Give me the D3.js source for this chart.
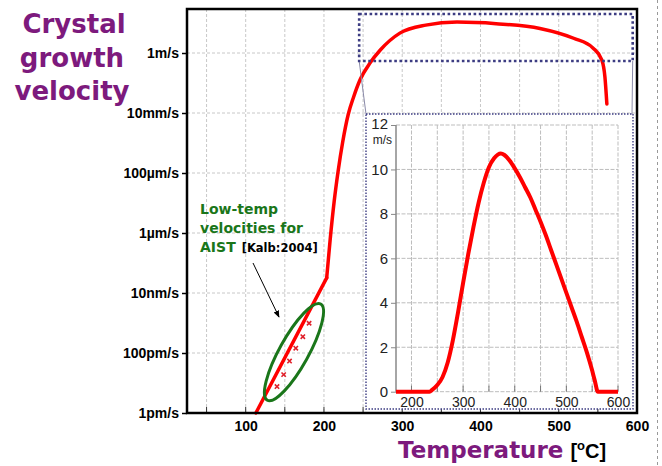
<!DOCTYPE html>
<html>
<head>
<meta charset="utf-8">
<script src="https://cdn.jsdelivr.net/npm/d3@7"></script>
<style>
  html, body { margin: 0; padding: 0; background: #fff; }
  svg { display: block; }
</style>
</head>
<body>
<svg id="chart" width="662" height="466"></svg>
<script>
// ---------- data ----------
// main curve: temperature [°C] and crystal growth velocity [m/s]
const mainT = [113, 203.5, 208, 213, 218, 224, 231, 238, 246, 259, 272, 297, 330, 370, 420, 476, 519, 544, 555, 559, 561.5];
const mainV = [1e-12, 3.2e-8, 6.3e-7, 1.1e-5, 1.1e-4, 1.1e-3, 8.9e-3, 0.035, 0.126, 0.47, 1.26, 4.6, 8.5, 10.7, 9.5, 6.6, 3.1, 1.45, 0.59, 0.16, 0.02];
// low-temperature AIST measurements [Kalb:2004]
const kalbT = [140, 148.5, 156, 164, 173, 181];
const kalbV = [7.6e-12, 1.9e-11, 5.4e-11, 1.45e-10, 3.5e-10, 9.8e-10];
// inset (linear) curve
const insetT = [170, 200, 235, 240, 250, 260, 270, 280, 290, 300, 310, 320, 330, 340, 350, 360, 373, 380, 390, 400, 410, 420, 430, 440, 450, 460, 470, 480, 490, 500, 510, 520, 530, 540, 550, 555, 561, 600];
const insetV = [0, 0, 0, 0.08, 0.3, 0.65, 1.3, 2.3, 3.55, 4.9, 6.2, 7.4, 8.5, 9.4, 10.1, 10.5, 10.72, 10.65, 10.4, 10.05, 9.65, 9.2, 8.75, 8.2, 7.65, 7.05, 6.4, 5.75, 5.1, 4.45, 3.8, 3.15, 2.45, 1.75, 0.95, 0.5, 0, 0];
// ticks
const yTickValues = [1e-12, 1e-10, 1e-8, 1e-6, 1e-4, 1e-2, 1];
const yTickLabels = ["1pm/s", "100pm/s", "10nm/s", "1\u00B5m/s", "100\u00B5m/s", "10mm/s", "1m/s"];
const xTickValues = [100, 200, 300, 400, 500, 600];
const xGridValues = [50, 100, 150, 200, 250, 300, 350, 400, 450, 500, 550];
const insetXTicks = [200, 300, 400, 500, 600];
const insetXGrid = [200, 250, 300, 350, 400, 450, 500, 550, 600];
const insetYTicks = [0, 2, 4, 6, 8, 10, 12];
// zoom window shown in the inset (data space)
const zoomT = [245, 594.5];
const zoomV = [0.54, 20];
// annotation ellipse (data space centre)
const ellipseCentre = [161.7, 1.07e-10];

// ---------- layout ----------
const svg = d3.select("#chart");
const PURPLE = "#7d1a7d", GREEN = "#1a761a", RED = "#ff0000", NAVY = "#3c3c82";

const x = d3.scaleLinear().domain([25, 600]).range([187, 637]);
const y = d3.scaleLog().domain([1e-12, 29.3]).range([413, 9]);

// right-side slide frame dashed line
svg.append("line").attr("x1", 657.5).attr("x2", 657.5).attr("y1", 0).attr("y2", 466)
  .attr("stroke", "#999").attr("stroke-width", 1).attr("stroke-dasharray", "3,3");

// grid
const grid = svg.append("g");
grid.selectAll("line.v").data(xGridValues).join("line")
  .attr("x1", d => x(d)).attr("x2", d => x(d)).attr("y1", 9).attr("y2", 413)
  .attr("stroke", "#c8c8c8").attr("stroke-width", 1).attr("stroke-dasharray", "3,2");
grid.selectAll("line.h").data(yTickValues.slice(1)).join("line")
  .attr("x1", 187).attr("x2", 637).attr("y1", d => y(d)).attr("y2", d => y(d))
  .attr("stroke", "#c8c8c8").attr("stroke-width", 1).attr("stroke-dasharray", "3,2");

// axes
const yAxis = d3.axisLeft(y).tickValues(yTickValues).tickFormat((d, i) => yTickLabels[i]).tickSize(5).tickPadding(3);
const gy = svg.append("g").attr("transform", "translate(187,0)").call(yAxis);
gy.select(".domain").remove();
gy.selectAll(".tick line").attr("stroke", "#000").attr("stroke-width", 1.5);
gy.selectAll(".tick text").attr("font-family", "Liberation Sans, Arial, sans-serif")
  .attr("font-weight", "bold").attr("font-size", 14).attr("fill", "#000");

const xAxis = d3.axisBottom(x).tickValues(xTickValues).tickFormat(d3.format("d")).tickSize(0).tickPadding(8);
const gx = svg.append("g").attr("transform", "translate(0,413)").call(xAxis);
gx.select(".domain").remove();
gx.selectAll(".tick text").attr("font-family", "Liberation Sans, Arial, sans-serif")
  .attr("font-weight", "bold").attr("font-size", 14).attr("fill", "#000");
// inner ticks every 50
svg.append("g").selectAll("line").data(xGridValues).join("line")
  .attr("x1", d => x(d)).attr("x2", d => x(d)).attr("y1", 413).attr("y2", 407)
  .attr("stroke", "#333").attr("stroke-width", 1);

// main curve
const pts = mainT.map((t, i) => [t, mainV[i]]);
const lin = d3.line().x(d => x(d[0])).y(d => y(d[1]));
svg.append("path").attr("d", lin(pts.slice(0, 2)))
  .attr("fill", "none").attr("stroke", RED).attr("stroke-width", 3.5).attr("stroke-linecap", "round");
svg.append("path").attr("d", lin.curve(d3.curveMonotoneX)(pts.slice(1)))
  .attr("fill", "none").attr("stroke", RED).attr("stroke-width", 3.5).attr("stroke-linejoin", "round").attr("stroke-linecap", "round");

// Kalb markers
svg.append("g").selectAll("path").data(kalbT.map((t, i) => [t, kalbV[i]])).join("path")
  .attr("transform", d => `translate(${x(d[0])},${y(d[1])})`)
  .attr("d", d3.symbol(d3.symbolX, 14)())
  .attr("fill", "none").attr("stroke", "#e0202a").attr("stroke-width", 1.6);

// ellipse
svg.append("ellipse")
  .attr("transform", `translate(${x(ellipseCentre[0])},${y(ellipseCentre[1])}) rotate(-61)`)
  .attr("rx", 55).attr("ry", 14.5)
  .attr("fill", "none").attr("stroke", GREEN).attr("stroke-width", 3);

// arrow
const defs = svg.append("defs");
defs.append("marker").attr("id", "arr").attr("viewBox", "0 0 10 10").attr("refX", 9).attr("refY", 5)
  .attr("markerWidth", 7).attr("markerHeight", 7).attr("orient", "auto")
  .append("path").attr("d", "M0,1 L10,5 L0,9 Z").attr("fill", "#000");
svg.append("line").attr("x1", 253).attr("y1", 263).attr("x2", 279).attr("y2", 317)
  .attr("stroke", "#000").attr("stroke-width", 1).attr("marker-end", "url(#arr)");

// annotation text
const ann = svg.append("g").attr("font-family", "DejaVu Sans, Verdana, sans-serif").attr("font-weight", "bold").attr("fill", GREEN).attr("font-size", 14);
ann.append("text").attr("x", 200).attr("y", 214).text("Low-temp");
ann.append("text").attr("x", 200).attr("y", 233).text("velocities for");
const t3 = ann.append("text").attr("x", 200).attr("y", 252);
t3.append("tspan").text("AIST");
t3.append("tspan").attr("dx", 6).attr("font-size", 11.5).attr("fill", "#000").text("[Kalb:2004]");

// main frame
svg.append("rect").attr("x", 187).attr("y", 9).attr("width", 450).attr("height", 404)
  .attr("fill", "none").attr("stroke", "#000").attr("stroke-width", 2.5);

// zoom box & connectors
const zx0 = x(zoomT[0]), zx1 = x(zoomT[1]), zy0 = y(zoomV[1]), zy1 = y(zoomV[0]);
const ib = { x0: 366, y0: 114, x1: 633, y1: 409 };
svg.append("line").attr("x1", zx0).attr("y1", zy1).attr("x2", ib.x0).attr("y2", ib.y0).attr("stroke", "#8a8aa8").attr("stroke-width", 1);
svg.append("line").attr("x1", zx1).attr("y1", zy1).attr("x2", ib.x1 - 1).attr("y2", ib.y0).attr("stroke", "#8a8aa8").attr("stroke-width", 1);
svg.append("rect").attr("x", zx0).attr("y", zy0).attr("width", zx1 - zx0).attr("height", zy1 - zy0)
  .attr("fill", "none").attr("stroke", NAVY).attr("stroke-width", 2.6).attr("stroke-dasharray", "2.6,2.6");

// inset box
svg.append("rect").attr("x", ib.x0).attr("y", ib.y0).attr("width", ib.x1 - ib.x0).attr("height", ib.y1 - ib.y0)
  .attr("fill", "#fff").attr("stroke", NAVY).attr("stroke-width", 1.4).attr("stroke-dasharray", "1.5,1.5");

// inset chart
const ix = d3.scaleLinear().domain([170, 600]).range([396, 618]);
const iy = d3.scaleLinear().domain([0, 12]).range([391.7, 125]);
const ig = svg.append("g");
ig.selectAll("line.v").data(insetXGrid).join("line")
  .attr("x1", d => ix(d)).attr("x2", d => ix(d)).attr("y1", iy(12)).attr("y2", iy(0))
  .attr("stroke", "#bdbdbd").attr("stroke-width", 1).attr("stroke-dasharray", "4,1.5");
ig.selectAll("line.h").data(insetYTicks).join("line")
  .attr("x1", ix(170)).attr("x2", ix(600)).attr("y1", d => iy(d)).attr("y2", d => iy(d))
  .attr("stroke", "#bdbdbd").attr("stroke-width", 1).attr("stroke-dasharray", "4,1.5");
// inner bottom ticks
ig.selectAll("line.bt").data(insetXGrid).join("line")
  .attr("x1", d => ix(d)).attr("x2", d => ix(d)).attr("y1", iy(0)).attr("y2", iy(0) - 6)
  .attr("stroke", "#777").attr("stroke-width", 1);
// left axis
ig.append("line").attr("x1", ix(170)).attr("x2", ix(170)).attr("y1", iy(12)).attr("y2", iy(0))
  .attr("stroke", "#888").attr("stroke-width", 1.5);
const iyAxis = d3.axisLeft(iy).tickValues(insetYTicks).tickFormat(d3.format("d")).tickSize(5).tickPadding(3);
const giy = ig.append("g").attr("transform", `translate(${ix(170)},0)`).call(iyAxis);
giy.select(".domain").remove();
giy.selectAll(".tick line").attr("stroke", "#888");
giy.selectAll(".tick text").attr("font-family", "Liberation Sans, Arial, sans-serif").attr("font-size", 15).attr("fill", "#222");
giy.selectAll(".tick text").filter(d => d === 12).attr("dy", "0.2em");
ig.append("text").attr("x", 392).attr("y", 144).attr("text-anchor", "end")
  .attr("font-family", "Liberation Sans, Arial, sans-serif").attr("font-size", 12).attr("fill", "#222").text("m/s");
const ixAxis = d3.axisBottom(ix).tickValues(insetXTicks).tickFormat(d3.format("d")).tickSize(0).tickPadding(5);
const gix = ig.append("g").attr("transform", `translate(0,${iy(0)})`).call(ixAxis);
gix.select(".domain").remove();
gix.selectAll(".tick text").attr("font-family", "Liberation Sans, Arial, sans-serif").attr("font-size", 14).attr("fill", "#222");

ig.append("path")
  .attr("d", d3.line().x(d => ix(d[0])).y(d => iy(d[1])).curve(d3.curveMonotoneX)(insetT.map((t, i) => [t, insetV[i]])))
  .attr("fill", "none").attr("stroke", RED).attr("stroke-width", 4).attr("stroke-linejoin", "round");

// title
const title = svg.append("g").attr("font-family", "DejaVu Sans, Verdana, sans-serif").attr("font-weight", "bold")
  .attr("font-size", 26).attr("fill", PURPLE).attr("text-anchor", "middle");
title.append("text").attr("x", 74).attr("y", 33).text("Crystal");
title.append("text").attr("x", 72).attr("y", 67).text("growth");
title.append("text").attr("x", 72).attr("y", 100).text("velocity");

// x axis title
const xt = svg.append("text").attr("x", 398).attr("y", 458).attr("font-family", "DejaVu Sans, Verdana, sans-serif").attr("font-weight", "bold");
xt.append("tspan").attr("font-size", 23).attr("fill", PURPLE).text("Temperature");
xt.append("tspan").attr("dx", 7).attr("font-size", 20).attr("fill", "#000").attr("font-family", "Liberation Sans, Arial, sans-serif").text("[");
xt.append("tspan").attr("font-size", 13).attr("dy", -8).attr("fill", "#000").attr("font-family", "Liberation Sans, Arial, sans-serif").text("o");
xt.append("tspan").attr("font-size", 20).attr("dy", 8).attr("fill", "#000").attr("font-family", "Liberation Sans, Arial, sans-serif").text("C]");
</script>
</body>
</html>
